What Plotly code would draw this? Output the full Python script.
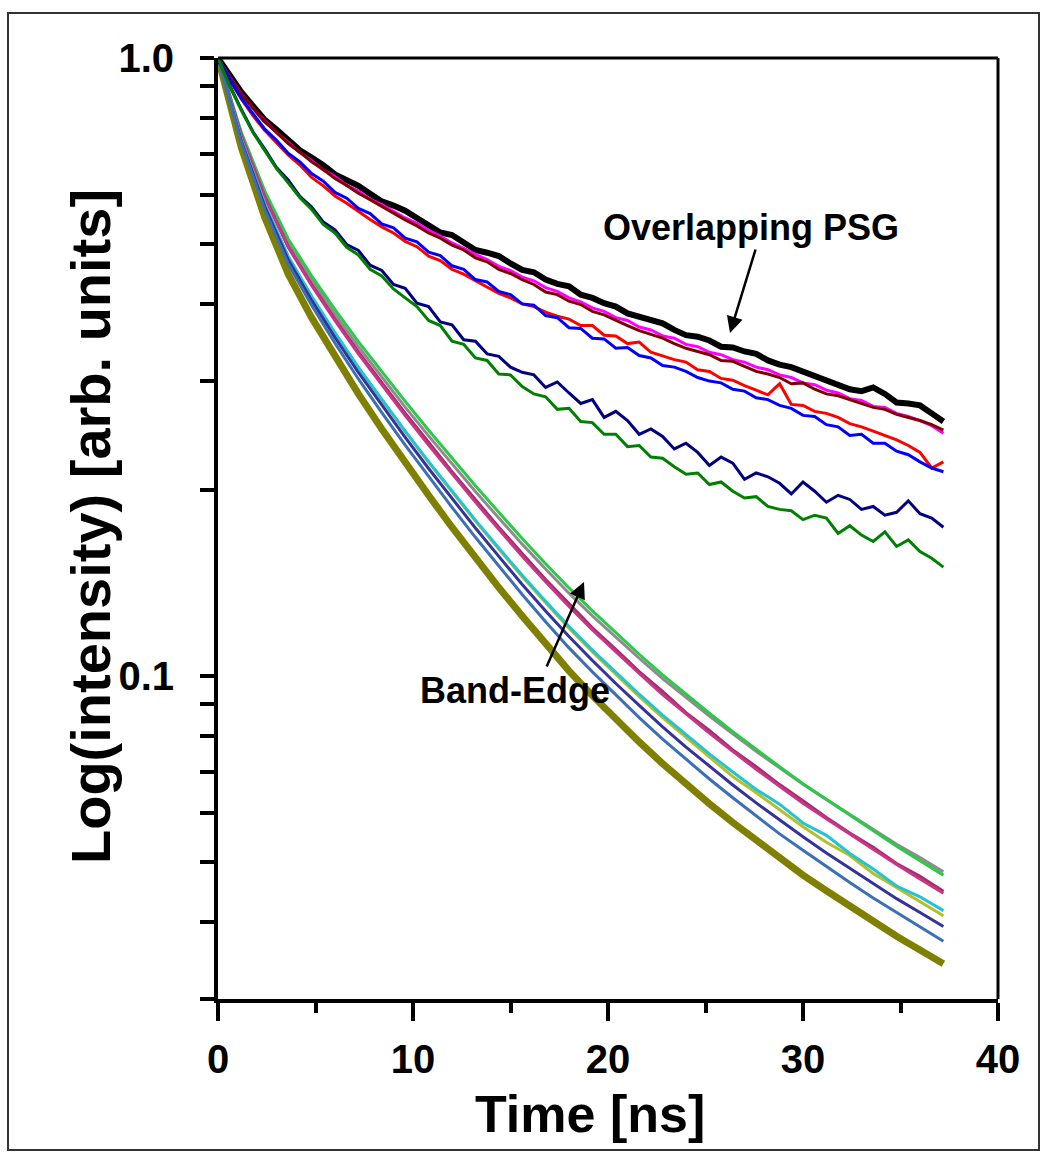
import plotly.graph_objects as go

# Sample times (ns)
t_fine = [0.0, 0.6, 1.2, 1.8, 2.4, 3.0, 3.6, 4.2, 4.8, 5.4, 6.0, 6.6, 7.2, 7.8, 8.4, 9.0,
          9.6, 10.2, 10.8, 11.4, 12.0, 12.6, 13.2, 13.8, 14.4, 15.0, 15.6, 16.2, 16.8, 17.4,
          18.0, 18.6, 19.2, 19.8, 20.4, 21.0, 21.6, 22.2, 22.8, 23.4, 24.0, 24.6, 25.2, 25.8,
          26.4, 27.0, 27.6, 28.2, 28.8, 29.4, 30.0, 30.6, 31.2, 31.8, 32.4, 33.0, 33.6, 34.2,
          34.8, 35.4, 36.0, 36.6, 37.2]
t_coarse = [0.0, 1.2, 2.4, 3.6, 4.8, 6.0, 7.2, 8.4, 9.6, 10.8, 12.0, 13.2, 14.4, 15.6, 16.8,
            18.0, 19.2, 20.4, 21.6, 22.8, 24.0, 25.2, 26.4, 27.6, 28.8, 30.0, 31.2, 32.4,
            33.6, 34.8, 36.0, 37.2]

# Overlapping PSG decays
psg_black = [1.000, 0.934, 0.880, 0.836, 0.794, 0.766, 0.739, 0.709, 0.690, 0.671, 0.648, 0.634,
             0.621, 0.603, 0.586, 0.577, 0.566, 0.551, 0.537, 0.522, 0.517, 0.503, 0.489, 0.484,
             0.478, 0.465, 0.454, 0.450, 0.438, 0.431, 0.427, 0.414, 0.409, 0.401, 0.396, 0.386,
             0.381, 0.376, 0.372, 0.363, 0.356, 0.354, 0.349, 0.341, 0.340, 0.335, 0.332, 0.324,
             0.319, 0.316, 0.311, 0.306, 0.302, 0.296, 0.291, 0.289, 0.293, 0.286, 0.277, 0.276,
             0.274, 0.266, 0.258]
psg_magenta = [1.000, 0.931, 0.876, 0.829, 0.791, 0.757, 0.730, 0.703, 0.682, 0.659, 0.643, 0.622,
               0.609, 0.591, 0.579, 0.565, 0.551, 0.540, 0.526, 0.515, 0.502, 0.492, 0.481, 0.472,
               0.460, 0.453, 0.442, 0.436, 0.425, 0.419, 0.409, 0.403, 0.394, 0.389, 0.380, 0.376,
               0.367, 0.363, 0.355, 0.352, 0.344, 0.341, 0.334, 0.331, 0.325, 0.322, 0.316, 0.313,
               0.307, 0.304, 0.298, 0.296, 0.290, 0.287, 0.281, 0.279, 0.273, 0.272, 0.266, 0.263,
               0.259, 0.254, 0.247]
psg_maroon = [1.000, 0.930, 0.875, 0.830, 0.789, 0.758, 0.727, 0.704, 0.679, 0.660, 0.638, 0.622,
              0.604, 0.590, 0.575, 0.562, 0.547, 0.535, 0.521, 0.511, 0.498, 0.489, 0.475, 0.468,
              0.455, 0.448, 0.438, 0.430, 0.418, 0.414, 0.404, 0.399, 0.389, 0.384, 0.376, 0.369,
              0.362, 0.357, 0.352, 0.345, 0.339, 0.335, 0.331, 0.324, 0.323, 0.317, 0.311, 0.308,
              0.304, 0.297, 0.298, 0.291, 0.286, 0.284, 0.280, 0.276, 0.272, 0.270, 0.265, 0.262,
              0.259, 0.255, 0.250]
psg_red = [1.000, 0.921, 0.858, 0.806, 0.763, 0.728, 0.697, 0.671, 0.641, 0.621, 0.598, 0.582,
           0.564, 0.548, 0.533, 0.521, 0.505, 0.495, 0.478, 0.470, 0.455, 0.447, 0.436, 0.426,
           0.416, 0.409, 0.400, 0.396, 0.388, 0.382, 0.378, 0.369, 0.369, 0.356, 0.355, 0.345,
           0.347, 0.334, 0.329, 0.325, 0.322, 0.313, 0.311, 0.303, 0.301, 0.295, 0.290, 0.285,
           0.297, 0.275, 0.274, 0.268, 0.266, 0.262, 0.256, 0.253, 0.249, 0.245, 0.241, 0.236,
           0.230, 0.217, 0.222]
psg_blue = [1.000, 0.924, 0.860, 0.814, 0.767, 0.736, 0.701, 0.679, 0.650, 0.632, 0.606, 0.593,
            0.571, 0.560, 0.539, 0.531, 0.511, 0.504, 0.485, 0.479, 0.461, 0.455, 0.438, 0.434,
            0.419, 0.414, 0.400, 0.398, 0.383, 0.380, 0.366, 0.365, 0.352, 0.351, 0.339, 0.340,
            0.330, 0.327, 0.318, 0.316, 0.311, 0.304, 0.300, 0.298, 0.291, 0.289, 0.282, 0.280,
            0.274, 0.271, 0.264, 0.263, 0.255, 0.253, 0.245, 0.246, 0.238, 0.238, 0.231, 0.228,
            0.222, 0.217, 0.214]
psg_navy = [1.000, 0.903, 0.826, 0.759, 0.712, 0.665, 0.635, 0.597, 0.574, 0.543, 0.527, 0.499,
            0.488, 0.462, 0.453, 0.430, 0.424, 0.401, 0.396, 0.374, 0.370, 0.350, 0.348, 0.332,
            0.329, 0.316, 0.310, 0.307, 0.293, 0.299, 0.287, 0.276, 0.280, 0.262, 0.268, 0.259,
            0.246, 0.251, 0.244, 0.233, 0.238, 0.230, 0.219, 0.226, 0.221, 0.208, 0.213, 0.210,
            0.205, 0.197, 0.206, 0.199, 0.191, 0.196, 0.193, 0.186, 0.188, 0.182, 0.184, 0.192,
            0.183, 0.180, 0.174]
psg_green = [1.000, 0.900, 0.822, 0.757, 0.708, 0.662, 0.628, 0.594, 0.569, 0.538, 0.521, 0.494,
             0.480, 0.455, 0.444, 0.423, 0.409, 0.396, 0.376, 0.369, 0.348, 0.344, 0.327, 0.324,
             0.308, 0.307, 0.294, 0.286, 0.283, 0.270, 0.271, 0.258, 0.257, 0.246, 0.246, 0.235,
             0.236, 0.226, 0.225, 0.218, 0.212, 0.213, 0.204, 0.206, 0.199, 0.194, 0.195, 0.188,
             0.186, 0.185, 0.179, 0.182, 0.180, 0.170, 0.175, 0.169, 0.165, 0.171, 0.162, 0.166,
             0.159, 0.155, 0.150]

# Band-edge decays
be_gray = [1.000, 0.7525, 0.6024, 0.5022, 0.4369, 0.3845, 0.3409, 0.3045, 0.2723, 0.2446, 0.2204,
           0.1988, 0.1801, 0.1634, 0.1489, 0.1361, 0.1251, 0.1154, 0.1068, 0.0990, 0.0922, 0.0861,
           0.0806, 0.0755, 0.0710, 0.0668, 0.0631, 0.0597, 0.0564, 0.0534, 0.0508, 0.0482]
be_green = [1.000, 0.7573, 0.6091, 0.5094, 0.4441, 0.3915, 0.3475, 0.3106, 0.2781, 0.2498, 0.2252,
            0.2031, 0.1840, 0.1668, 0.1519, 0.1388, 0.1274, 0.1174, 0.1084, 0.1004, 0.0933, 0.0870,
            0.0812, 0.0760, 0.0713, 0.0669, 0.0631, 0.0595, 0.0561, 0.0530, 0.0502, 0.0476]
be_pink = [1.000, 0.7475, 0.5952, 0.4940, 0.4283, 0.3757, 0.3321, 0.2958, 0.2639, 0.2363, 0.2123,
           0.1911, 0.1727, 0.1562, 0.1420, 0.1295, 0.1187, 0.1093, 0.1009, 0.0933, 0.0867, 0.0808,
           0.0755, 0.0706, 0.0663, 0.0622, 0.0587, 0.0554, 0.0523, 0.0495, 0.0469, 0.0445]
be_plum = [1.000, 0.7480, 0.5960, 0.4955, 0.4301, 0.3780, 0.3345, 0.2985, 0.2662, 0.2388, 0.2140,
           0.1930, 0.1740, 0.1578, 0.1432, 0.1309, 0.1196, 0.1104, 0.1016, 0.0944, 0.0872, 0.0816,
           0.0759, 0.0713, 0.0667, 0.0628, 0.0590, 0.0557, 0.0528, 0.0497, 0.0474, 0.0448]
be_cyan = [1.000, 0.7366, 0.5801, 0.4774, 0.4114, 0.3590, 0.3158, 0.2802, 0.2490, 0.2222, 0.1992,
           0.1787, 0.1611, 0.1455, 0.1321, 0.1202, 0.1101, 0.1013, 0.0934, 0.0864, 0.0803, 0.0748,
           0.0699, 0.0655, 0.0620, 0.0578, 0.0552, 0.0516, 0.0487, 0.0457, 0.0439, 0.0417]
be_yellowgreen = [1.000, 0.7365, 0.5800, 0.4772, 0.4111, 0.3586, 0.3154, 0.2797, 0.2484, 0.2216,
                  0.1985, 0.1780, 0.1604, 0.1447, 0.1313, 0.1194, 0.1093, 0.1005, 0.0926, 0.0856,
                  0.0795, 0.0740, 0.0687, 0.0647, 0.0607, 0.0570, 0.0538, 0.0512, 0.0479, 0.0454,
                  0.0431, 0.0409]
be_slate = [1.000, 0.7328, 0.5749, 0.4715, 0.4054, 0.3529, 0.3098, 0.2742, 0.2432, 0.2166, 0.1937,
            0.1735, 0.1561, 0.1406, 0.1274, 0.1158, 0.1059, 0.0972, 0.0896, 0.0827, 0.0767, 0.0714,
            0.0666, 0.0623, 0.0584, 0.0549, 0.0517, 0.0488, 0.0461, 0.0436, 0.0414, 0.0393]
be_steel = [1.000, 0.728, 0.568, 0.464, 0.398, 0.3456, 0.3024, 0.2667, 0.2364, 0.2100, 0.1874,
            0.1676, 0.1505, 0.1354, 0.1224, 0.1110, 0.1015, 0.0931, 0.0856, 0.0790, 0.0733, 0.0681,
            0.0635, 0.0593, 0.0555, 0.0522, 0.0491, 0.0463, 0.0437, 0.0414, 0.0392, 0.0372]
be_olive = [1.000, 0.716, 0.552, 0.447, 0.380, 0.328, 0.286, 0.251, 0.221, 0.196, 0.174, 0.155,
            0.139, 0.125, 0.1125, 0.1019, 0.0929, 0.0851, 0.0782, 0.0721, 0.0668, 0.0621, 0.0579,
            0.0541, 0.0507, 0.0476, 0.0449, 0.0424, 0.0400, 0.0379, 0.0360, 0.0342]

y_major = [0.1, 1.0]
y_major_text = ["0.1", "1.0"]
y_minor = [0.03, 0.04, 0.05, 0.06, 0.07, 0.08, 0.09, 0.2, 0.3, 0.4, 0.5, 0.6, 0.7, 0.8, 0.9]
x_major = [0, 10, 20, 30, 40]
x_minor = [5, 15, 25, 35]

FONT = "Liberation Sans, Arial, sans-serif"

fig = go.Figure()

band_edge = [
    (be_olive, "#808000", 7),
    (be_gray, "#8c8c8c", 3),
    (be_green, "#2cc84a", 3),
    (be_plum, "#993366", 3),
    (be_pink, "#cc3388", 3),
    (be_yellowgreen, "#b4bf2a", 3),
    (be_cyan, "#22c3d3", 3),
    (be_slate, "#333399", 3),
    (be_steel, "#3b6fb6", 3),
]
for vals, col, w in band_edge:
    fig.add_trace(go.Scatter(x=t_coarse, y=vals, mode="lines",
                             line=dict(color=col, width=w)))

psg = [
    (psg_black, "#000000", 6),
    (psg_magenta, "#ff00ff", 3),
    (psg_maroon, "#800000", 3),
    (psg_red, "#ff0000", 3),
    (psg_blue, "#0000ff", 3),
    (psg_navy, "#000080", 3),
    (psg_green, "#008000", 3),
]
for vals, col, w in psg:
    fig.add_trace(go.Scatter(x=t_fine, y=vals, mode="lines",
                             line=dict(color=col, width=w)))

fig.update_xaxes(
    range=[0, 40], showline=True, linewidth=4, linecolor="black",
    showgrid=False, zeroline=False,
    tickmode="array", tickvals=x_major, ticks="outside", ticklen=18, tickwidth=4,
    tickcolor="black", ticklabelstandoff=4,
    tickfont=dict(family=FONT, size=40, color="black", weight="bold"),
    minor=dict(tickmode="array", tickvals=x_minor, ticks="outside", ticklen=10,
               tickwidth=4, tickcolor="black", showgrid=False),
)
fig.update_yaxes(
    type="log", range=[-1.5229, 0], showline=True, linewidth=4, linecolor="black",
    showgrid=False, zeroline=False,
    tickmode="array", tickvals=y_major, ticktext=y_major_text, ticks="outside",
    ticklen=14, tickwidth=4, tickcolor="black", ticklabelstandoff=18,
    tickfont=dict(family=FONT, size=40, color="black", weight="bold"),
    minor=dict(tickmode="array", tickvals=y_minor, ticks="outside", ticklen=14,
               tickwidth=4, tickcolor="black", showgrid=False),
)

W, H = 1047, 1162
L, R, T, B = 218, 49, 58, 163
pw, ph = W - L - R, H - T - B


def px_to_paper(px, py):
    return (px - L) / pw, (H - B - py) / ph


def label(text, px, py, size, angle=0):
    x, y = px_to_paper(px, py)
    return dict(text=text, x=x, y=y, xref="paper", yref="paper", xanchor="center",
                yanchor="middle", textangle=angle, showarrow=False,
                font=dict(family=FONT, size=size, color="black", weight="bold"))


annotations = [
    label("Time [ns]", 590, 1114, 52),
    label("Log(intensity) [arb. units]", 90, 527, 56, -90),
    label("Overlapping PSG", 751, 227, 36),
    label("Band-Edge", 515, 690, 36),
]
# arrows: (tip, tail) in pixels
for (tx, ty), (sx, sy) in [((730, 333), (756, 248)), ((584, 582), (546, 668))]:
    x, y = px_to_paper(tx, ty)
    annotations.append(dict(text="", x=x, y=y, xref="paper", yref="paper", showarrow=True,
                            ax=sx - tx, ay=sy - ty, axref="pixel", ayref="pixel",
                            arrowhead=2, arrowsize=1.3, arrowwidth=2.5, arrowcolor="black"))

# thinner top and right frame of the plot area
fig.add_shape(type="line", xref="paper", yref="paper", x0=0, y0=1, x1=1, y1=1,
              line=dict(color="black", width=3))
fig.add_shape(type="line", xref="paper", yref="paper", x0=1, y0=0, x1=1, y1=1,
              line=dict(color="black", width=3))

# outer border of the figure
x0, y0 = px_to_paper(8, 1150)
x1, y1 = px_to_paper(1039, 13)
fig.add_shape(type="rect", xref="paper", yref="paper", x0=x0, y0=y0, x1=x1, y1=y1,
              line=dict(color="#333333", width=2), layer="below")

fig.update_layout(
    width=W, height=H, margin=dict(l=L, r=R, t=T, b=B, autoexpand=False),
    paper_bgcolor="white", plot_bgcolor="white", showlegend=False,
    annotations=annotations, font=dict(family=FONT, color="black"),
)

fig.write_html("out.html")
